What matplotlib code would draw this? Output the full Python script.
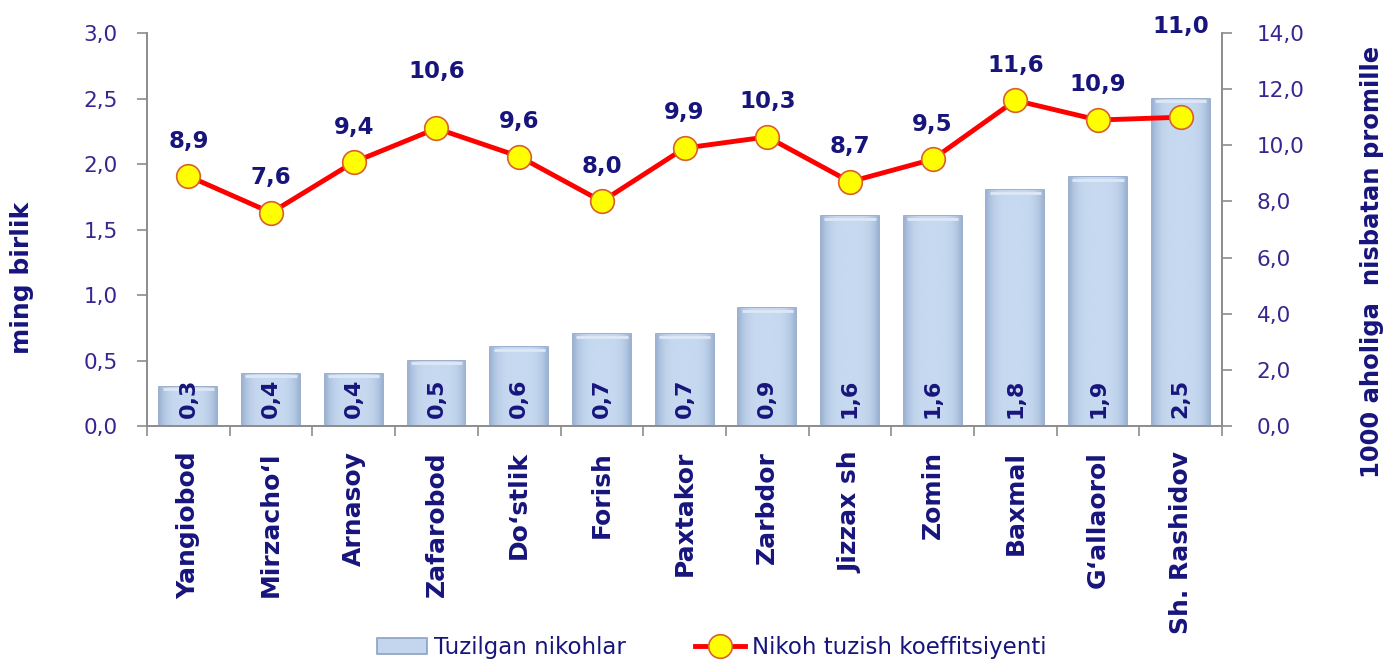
import matplotlib.pyplot as plt
import numpy as np

plt.rcParams['font.family'] = ['DejaVu Sans']

districts = ['Yangiobod', 'Mirzacho\u2018l', 'Arnasoy', 'Zafarobod', 'Do\u2018stlik',
             'Forish', 'Paxtakor', 'Zarbdor', 'Jizzax sh', 'Zomin', 'Baxmal',
             'G\u2018allaorol', 'Sh. Rashidov']
marriages = [0.3, 0.4, 0.4, 0.5, 0.6, 0.7, 0.7, 0.9, 1.6, 1.6, 1.8, 1.9, 2.5]
rate = [8.9, 7.6, 9.4, 10.6, 9.6, 8.0, 9.9, 10.3, 8.7, 9.5, 11.6, 10.9, 11.0]

navy = '#17157c'
tick_col = '#3a2590'
axis_col = '#8c8c8c'

# label offsets (points) above the markers, a few labels sit higher
label_offset = {3: 33, 12: 57}


def fmt(v):
    return f'{v:.1f}'.replace('.', ',')


fig = plt.figure(figsize=(13.9, 6.6), dpi=100)
ax = fig.add_axes([0.1058, 0.3545, 0.7734, 0.5955])
ax2 = ax.twinx()

x = np.arange(len(districts))
bars = ax.bar(x, marriages, width=0.7, color='#c3d6ee', edgecolor='#8aa2c4',
              linewidth=1.2, label='Tuzilgan nikohlar', zorder=2)

# soft bevel gradient inside each bar
t = np.linspace(0, 1, 64)
shade = 1 - (np.abs(t - 0.5) * 2) ** 4
grad = np.outer(np.ones(8), shade)
cmap = plt.matplotlib.colors.LinearSegmentedColormap.from_list(
    'bev', ['#9bb2d3', '#c6d9f0'])
for b in bars:
    x0, w, h = b.get_x(), b.get_width(), b.get_height()
    im = ax.imshow(grad, extent=(x0, x0 + w, 0, h), aspect='auto', cmap=cmap,
                   vmin=0, vmax=1, zorder=2.5, interpolation='bicubic')
    im.set_clip_path(b)
    ax.plot([x0 + 0.04, x0 + w - 0.04], [h - 0.02, h - 0.02], color='#dde8f6',
            lw=2, zorder=2.6, solid_capstyle='butt')

for xi, v in zip(x, marriages):
    ax.text(xi, 0.06, fmt(v), rotation=90, ha='center', va='bottom',
            fontsize=16, fontweight='bold', color=navy, zorder=5)

ax2.plot(x, rate, color='#ff0000', lw=3.5, marker='o', markersize=17,
         markerfacecolor='#ffff00', markeredgecolor='#d9602a',
         markeredgewidth=1.2, label='Nikoh tuzish koeffitsiyenti', zorder=4)
for i, (xi, v) in enumerate(zip(x, rate)):
    off = label_offset.get(i, 17)
    ax2.annotate(fmt(v), (xi, v), xytext=(0, off), textcoords='offset points',
                 ha='center', va='bottom', fontsize=16.5, fontweight='bold',
                 color=navy, annotation_clip=False)

ax.set_xlim(-0.5, len(districts) - 0.5)
ax.set_ylim(0, 3.0)
ax2.set_ylim(0, 14.0)
ax.set_yticks(np.arange(0, 3.01, 0.5))
ax.set_yticklabels([fmt(v) for v in np.arange(0, 3.01, 0.5)])
ax2.set_yticks(np.arange(0, 14.01, 2))
ax2.set_yticklabels([fmt(v) for v in np.arange(0, 14.01, 2)])

ax.set_xticks(x)
ax.set_xticklabels(districts, rotation=90, fontsize=18, fontweight='bold',
                   color=navy)
ax.set_xticks(np.arange(-0.5, len(districts), 1), minor=True)
ax.tick_params(axis='x', which='major', length=0, pad=18)
ax.tick_params(axis='x', which='minor', length=7, color=axis_col, width=1.2)
ax.tick_params(axis='y', length=7, color=axis_col, width=1.2, labelsize=15.5,
               labelcolor=tick_col, pad=14)
ax2.tick_params(axis='y', length=7, color=axis_col, width=1.2, labelsize=15.5,
                labelcolor=tick_col, pad=18)

for a in (ax, ax2):
    a.spines['top'].set_visible(False)
    for s in ('left', 'right', 'bottom'):
        a.spines[s].set_color(axis_col)
        a.spines[s].set_linewidth(1.2)

fig.text(22 / 1390, 1 - 278 / 660, 'ming birlik', rotation=90, ha='center',
         va='center', fontsize=18, fontweight='bold', color=navy)
fig.text(1372 / 1390, 1 - 262 / 660, '1000 aholiga  nisbatan promille',
         rotation=90, ha='center', va='center', fontsize=17.5,
         fontweight='bold', color=navy)

h1, l1 = ax.get_legend_handles_labels()
h2, l2 = ax2.get_legend_handles_labels()
fig.legend(h1 + h2, l1 + l2, loc='lower center', bbox_to_anchor=(0.512, -0.03),
           ncol=2, frameon=False, fontsize=16.5, labelcolor=navy,
           columnspacing=3.0, handlelength=2.2, handletextpad=0.3)

fig.savefig('out.png', dpi=100)
